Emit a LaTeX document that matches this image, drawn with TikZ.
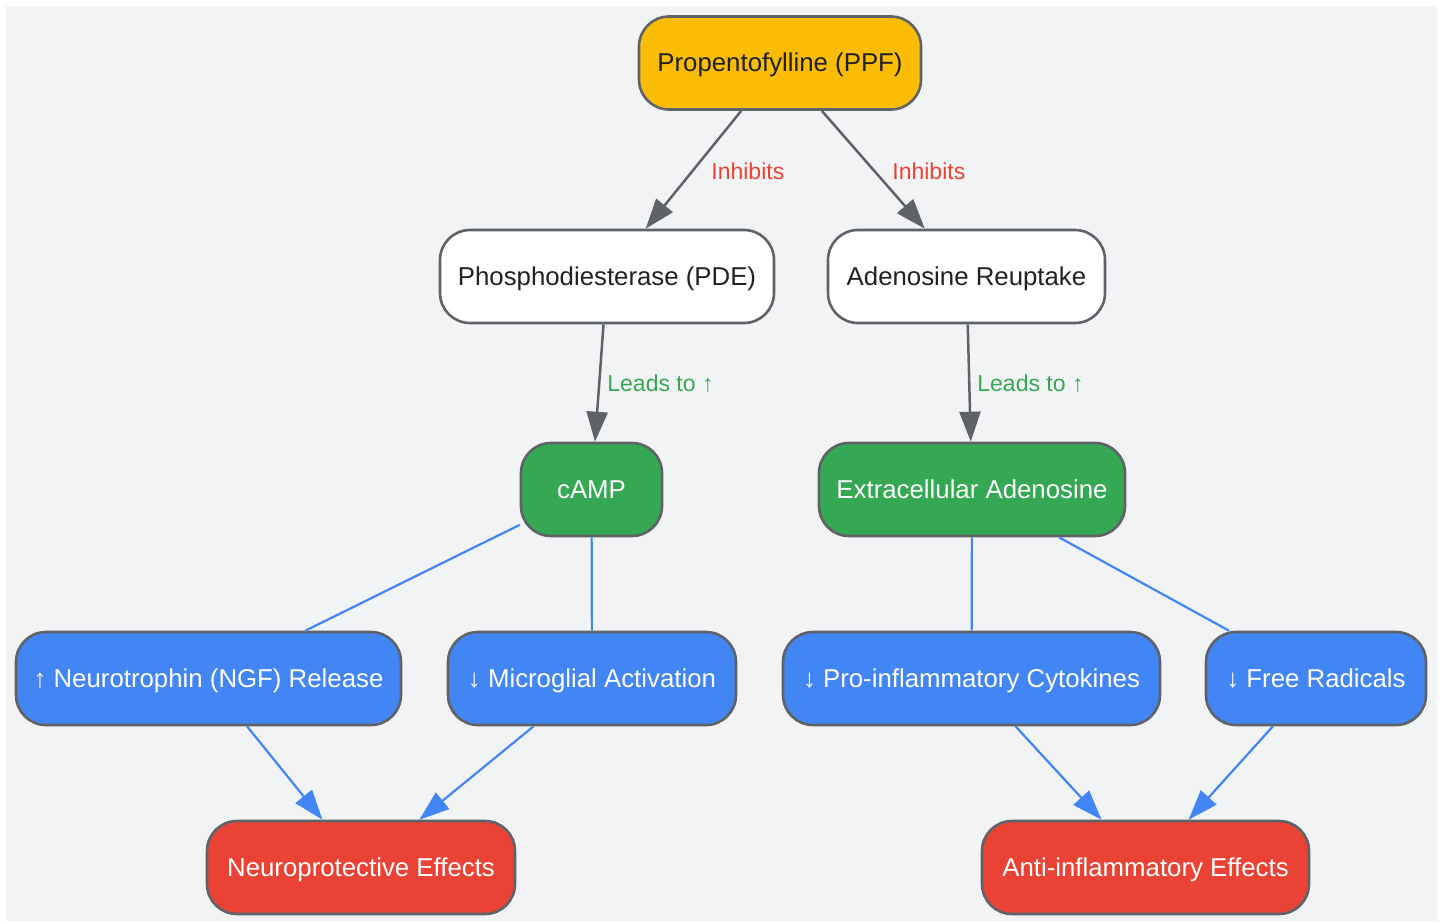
\documentclass[tikz,border=0pt]{standalone}
\usepackage{fontspec}
\setmainfont{Liberation Sans}
\usetikzlibrary{arrows.meta}
\definecolor{bgcol}{HTML}{F1F3F4}
\definecolor{linegray}{HTML}{5F6368}
\definecolor{darktext}{HTML}{202124}
\definecolor{gyellow}{HTML}{FBBC04}
\definecolor{ggreen}{HTML}{34A853}
\definecolor{gblue}{HTML}{4285F4}
\definecolor{gred}{HTML}{EA4335}
\tikzset{
  box/.style={draw=linegray, line width=1.3pt, rounded corners=15pt,
    minimum height=46.5pt, inner sep=0pt, text=white,
    font=\fontsize{12.9}{15}\selectfont, text height=1.0em, text depth=0.14em},
  drugbox/.style={box, fill=gyellow, text=darktext},
  targetbox/.style={box, fill=white, text=darktext},
  messbox/.style={box, fill=ggreen},
  actbox/.style={box, fill=gblue},
  effbox/.style={box, fill=gred},
  inhline/.style={draw=linegray, line width=1.25pt, -{Triangle[length=15pt,width=10.5pt]}},
  bluelink/.style={draw=gblue, line width=1.1pt},
  bluearrow/.style={bluelink, -{Triangle[length=15pt,width=10.5pt]}},
  lbl/.style={anchor=west, inner sep=0pt, font=\fontsize{11.5}{14}\selectfont},
}
\begin{document}
\begin{tikzpicture}[x=0.5pt,y=-0.5pt]
\useasboundingbox (0,0) rectangle (1443,921);
\fill[bgcol] (6,6) rectangle (1437,921);
\node[drugbox, minimum width=141pt] (ppf) at (780,63) {Propentofylline (PPF)};
\node[targetbox, minimum width=167pt] (pde) at (607,276.5) {Phosphodiesterase (PDE)};
\node[targetbox, minimum width=138.5pt] (reup) at (966.5,276.5) {Adenosine Reuptake};
\node[messbox, minimum width=70.5pt] (camp) at (591.5,489.5) {cAMP};
\node[messbox, minimum width=153pt] (extado) at (972,489.5) {Extracellular Adenosine};
\node[actbox, minimum width=192.5pt] (ngf) at (208.5,678.5) {↑ Neurotrophin (NGF) Release};
\node[actbox, minimum width=144pt] (micro) at (592,678.5) {↓ Microglial Activation};
\node[actbox, minimum width=188.5pt] (cyto) at (971.5,678.5) {↓ Pro-inflammatory Cytokines};
\node[actbox, minimum width=110pt] (radic) at (1316,678.5) {↓ Free Radicals};
\node[effbox, minimum width=154pt] (neuro) at (361,867.5) {Neuroprotective Effects};
\node[effbox, minimum width=163.5pt] (antiinf) at (1145.5,867.5) {Anti-inflammatory Effects};
\draw[inhline] (ppf) -- (pde);
\draw[inhline] (ppf) -- (reup);
\draw[inhline] (pde) -- (camp);
\draw[inhline] (reup) -- (extado);
\node[lbl, text=gred] (inh1) at (711,171) {Inhibits};
\node[lbl, text=gred] (inh2) at (892,171) {Inhibits};
\node[lbl, text=ggreen] (lead1) at (607,384) {Leads to ↑};
\node[lbl, text=ggreen] (lead2) at (977,384) {Leads to ↑};
\draw[bluelink] (camp) -- (ngf);
\draw[bluelink] (camp) -- (micro);
\draw[bluelink] (extado) -- (cyto);
\draw[bluelink] (extado) -- (radic);
\draw[bluearrow] (ngf) -- (neuro);
\draw[bluearrow] (micro) -- (neuro);
\draw[bluearrow] (cyto) -- (antiinf);
\draw[bluearrow] (radic) -- (antiinf);
\end{tikzpicture}
\end{document}
